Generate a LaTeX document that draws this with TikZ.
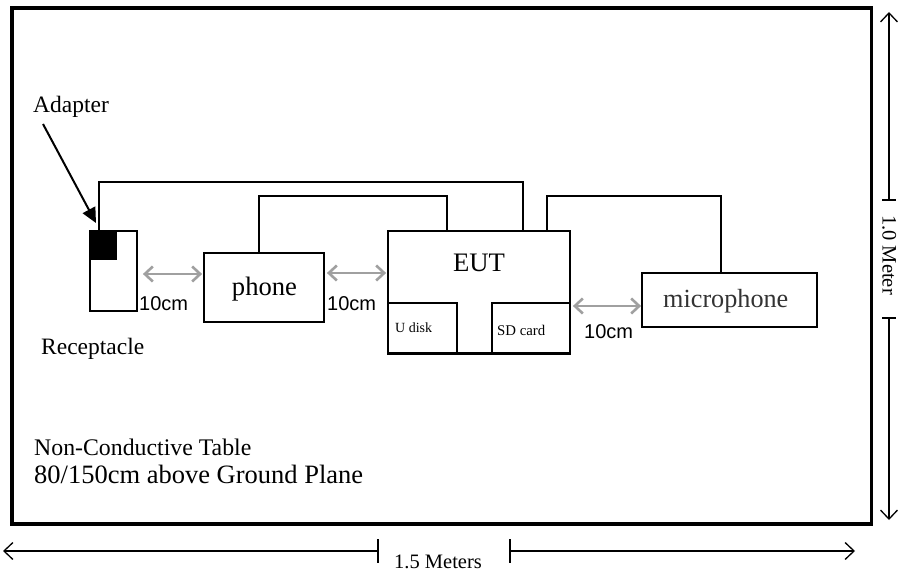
\documentclass[tikz,border=0pt]{standalone}
\usepackage{fontspec}
\setmainfont{Liberation Serif}
\newfontfamily\arialfont{Liberation Sans}
\usetikzlibrary{arrows.meta,positioning,calc}
\definecolor{gapgray}{HTML}{A0A0A0}
\definecolor{micgray}{HTML}{333333}

\begin{document}
\begin{tikzpicture}[x=1pt,y=-1pt,>=Stealth,
  box/.style={draw,line width=1.8pt,inner sep=0pt},
  wire/.style={line width=1.8pt},
  gapline/.style={draw=gapgray,line width=2.6pt,{Straight Barb[length=8pt,width=15pt]}-{Straight Barb[length=8pt,width=15pt]}},
  dim/.style={line width=1.3pt},
  dimtip/.style={dim,-{Straight Barb[length=9pt,width=17pt]}},
  txt/.style={inner sep=0pt,anchor=base west},
  cmtxt/.style={txt,font=\arialfont\fontsize{20}{22}\selectfont}]
\useasboundingbox (0,0) rectangle (898,575);

% table
\draw[line width=3.4pt] (12,8) rectangle (871.5,524);

% boxes
\node[box,minimum width=47pt,minimum height=80pt] (rec) at (113.5,271) {};
\node[fill=black,inner sep=0pt,minimum width=28pt,minimum height=30pt,anchor=north west] (adp) at (rec.north west) {};
\node[box,minimum width=120pt,minimum height=69pt] (phone) at (264,287.5) {};
\node[box,minimum width=182pt,minimum height=122pt] (eut) at (479,292) {};
\node[box,minimum width=69pt,minimum height=50pt,anchor=south west] (udisk) at (eut.south west) {};
\node[box,minimum width=78pt,minimum height=50pt,anchor=south east] (sdcard) at (eut.south east) {};
\node[box,minimum width=175pt,minimum height=54pt] (mic) at (729.5,300) {};
\draw[line width=2.8pt] (udisk.south west) -- (sdcard.south east);

% labels
\node[txt,font=\fontsize{23.5}{26}\selectfont] (adplbl) at (33,113) {Adapter};
\node[txt,font=\fontsize{23.5}{26}\selectfont] (reclbl) at (41,354) {Receptacle};
\node[txt,font=\fontsize{26.6}{30}\selectfont,anchor=base] (phonelbl) at (264.5,295) {phone};
\node[txt,font=\fontsize{26.7}{30}\selectfont,anchor=base] (eutlbl) at (479,272) {EUT};
\node[txt,font=\fontsize{14}{16}\selectfont] (udisklbl) at (395,332) {U disk};
\node[txt,font=\fontsize{14.8}{16}\selectfont] (sdlbl) at (497,335) {SD card};
\node[txt,font=\fontsize{26.2}{30}\selectfont,text=micgray] (miclbl) at (663,308) {microphone};
\node[cmtxt] (cm1) at (139,310) {10cm};
\node[cmtxt] (cm2) at (327,310) {10cm};
\node[cmtxt] (cm3) at (584,338) {10cm};
\node[txt,font=\fontsize{23.8}{26}\selectfont] (tbl1) at (34,455) {Non-Conductive Table};
\node[txt,font=\fontsize{26.5}{30}\selectfont] (tbl2) at (34,483) {80/150cm above Ground Plane};

% adapter pointer
\coordinate (astart) at (43,124);
\coordinate (atip) at (96,223);
\draw[line width=2pt,-{Triangle[length=15pt,width=14pt]}] (astart) -- (atip);

% cables
\draw[wire] ([xshift=10pt]adp.north west) -- ++(0,-48) -| ([xshift=44pt]eut.north);
\draw[wire] ([xshift=-5pt]phone.north) -- ++(0,-56) -| ([xshift=-32pt]eut.north);
\draw[wire] ([xshift=68pt]eut.north) -- ++(0,-34) -| ([xshift=-8.5pt]mic.north);

% 10cm spacings
\coordinate (row1) at (0,274);
\coordinate (row2) at (0,273);
\coordinate (row3) at (0,306);
\draw[gapline,shorten <=5pt,shorten >=1pt] (rec.east |- row1) -- (phone.west |- row1);
\draw[gapline,shorten <=2pt,shorten >=1pt] (phone.east |- row2) -- (eut.west |- row2);
\draw[gapline,shorten <=2pt,shorten >=0pt] (eut.east |- row3) -- (mic.west |- row3);

% dimensions
\coordinate (hl) at (3,551);
\coordinate (hm1) at (378,551);
\coordinate (hm2) at (510,551);
\coordinate (hr) at (855,551);
\draw[dimtip] (hm1) -- (hl);
\draw[dimtip] (hm2) -- (hr);
\draw[dim] ($(hm1)+(0,-12)$) -- ($(hm1)+(0,12)$);
\draw[dim] ($(hm2)+(0,-12)$) -- ($(hm2)+(0,12)$);
\node[txt,font=\fontsize{20.5}{22}\selectfont] (wlbl) at (394,568) {1.5 Meters};

\coordinate (vt) at (889,12);
\coordinate (vm1) at (889,200);
\coordinate (vm2) at (889,318);
\coordinate (vb) at (889,520);
\draw[dimtip] (vm1) -- (vt);
\draw[dimtip] (vm2) -- (vb);
\draw[dim] ($(vm1)+(-7,0)$) -- ($(vm1)+(7,0)$);
\draw[dim] ($(vm2)+(-7,0)$) -- ($(vm2)+(7,0)$);
\node[txt,font=\fontsize{20.5}{22}\selectfont,rotate=-90] (hlbl) at (882.5,215) {1.0 Meter};
\end{tikzpicture}
\end{document}
